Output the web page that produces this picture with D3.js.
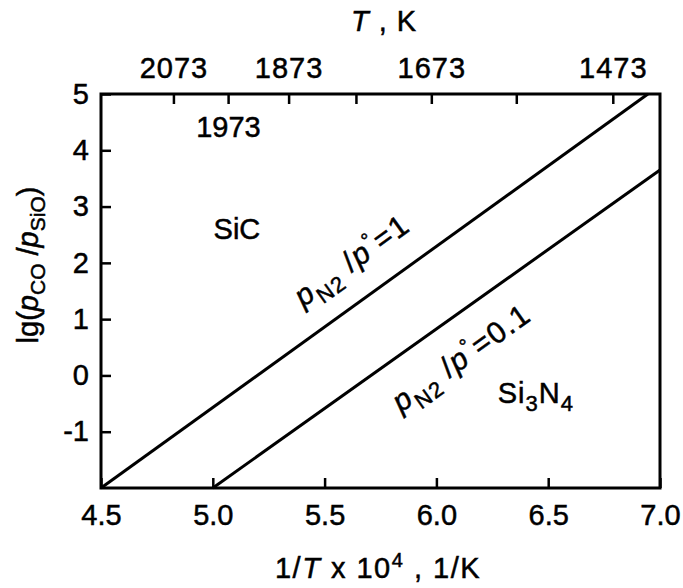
<!DOCTYPE html>
<html>
<head>
<meta charset="utf-8">
<script src="https://cdn.jsdelivr.net/npm/d3@7"></script>
<style>
  body { margin: 0; background: #fff; }
  text { font-family: "Liberation Sans", Arial, sans-serif; fill: #000; stroke: #000; stroke-width: 0.5px; }
</style>
</head>
<body>
<svg id="chart" width="683" height="588"></svg>
<script>
// values
var xTicks = [4.5, 5.0, 5.5, 6.0, 6.5, 7.0];
var yTicks = [-1, 0, 1, 2, 3, 4, 5];
var topTemps = [2073, 1973, 1873, 1773, 1673, 1573, 1473];
var topLabelled = [2073, 1873, 1673, 1473];
var lineN2_1 = [[4.5, -2], [6.946, 5]];      // pN2/p° = 1
var lineN2_01 = [[5.0, -2], [7.0, 3.65]];    // pN2/p° = 0.1

var FS = "29px";

var svg = d3.select("#chart");
var margin = {top: 94, right: 23, bottom: 100, left: 101};
var W = 683 - margin.left - margin.right,
    H = 588 - margin.top - margin.bottom;

var g = svg.append("g")
    .attr("transform", "translate(" + margin.left + "," + margin.top + ")");

var x = d3.scaleLinear().domain([4.5, 7.0]).range([0, W]);
var y = d3.scaleLinear().domain([-2, 5]).range([H, 0]);

// bottom axis, ticks pointing in
var xAxis = g.append("g")
    .attr("transform", "translate(0," + H + ")")
    .call(d3.axisBottom(x).tickValues(xTicks).tickSize(-10).tickPadding(16)
        .tickFormat(d3.format(".1f")));

// left axis
var yAxis = g.append("g")
    .call(d3.axisLeft(y).tickValues(yTicks).tickSize(-10).tickPadding(12)
        .tickFormat(function(d){ return d < 0 ? "-" + (-d) : d; }));

// top axis in temperature
var topAxis = g.append("g")
    .call(d3.axisTop(x).tickValues(topTemps.map(function(t){ return 1e4 / t; }))
        .tickSize(-10).tickPadding(16)
        .tickFormat(function(v){
            var t = Math.round(1e4 / v);
            return topLabelled.indexOf(t) >= 0 ? t : "";
        }));

[xAxis, yAxis, topAxis].forEach(function(a){
    a.select(".domain").remove();
    a.selectAll(".tick line").attr("stroke", "#000").attr("stroke-width", 2.5);
    a.selectAll(".tick text")
        .style("font-family", "'Liberation Sans', Arial, sans-serif")
        .style("font-size", FS)
        .attr("fill", "#000");
});
topAxis.selectAll(".tick text").style("letter-spacing", "1px");

// frame
g.append("rect")
    .attr("width", W).attr("height", H)
    .attr("fill", "none").attr("stroke", "#000").attr("stroke-width", 3);

// equilibrium lines
var line = d3.line().x(function(d){ return x(d[0]); }).y(function(d){ return y(d[1]); });
[lineN2_1, lineN2_01].forEach(function(l){
    g.append("path").datum(l).attr("d", line)
        .attr("fill", "none").attr("stroke", "#000").attr("stroke-width", 3);
});

function angleOf(l){
    return Math.atan2(y(l[1][1]) - y(l[0][1]), x(l[1][0]) - x(l[0][0])) * 180 / Math.PI;
}

// rotated labels on the lines
function pLabel(px, py, ang, value){
    var t = g.append("text")
        .attr("transform", "translate(" + x(px) + "," + y(py) + ") rotate(" + ang + ")")
        .attr("text-anchor", "middle")
        .attr("dy", "0.35em")
        .style("font-size", "30px")
        .style("letter-spacing", "1.5px");
    t.append("tspan").style("font-style", "italic").text("p");
    t.append("tspan").attr("dy", 9).style("font-size", "22px").text("N");
    t.append("tspan").style("font-size", "22px").text("2");
    t.append("tspan").attr("dy", -9).text(" /");
    t.append("tspan").style("font-style", "italic").text("p");
    t.append("tspan").attr("dy", -11).style("font-size", "20px").text("°");
    t.append("tspan").attr("dy", 11).text("=" + value);
}
pLabel(5.62, 2.05, angleOf(lineN2_1), "1");
pLabel(6.11, 0.32, angleOf(lineN2_01), "0.1");

// phase field labels
g.append("text").attr("x", x(5.07)).attr("y", y(4.41)).attr("dy", "0.35em")
    .attr("text-anchor", "middle").style("font-size", FS).text("1973");
g.append("text").attr("x", x(5.108)).attr("y", y(2.6)).attr("dy", "0.35em")
    .attr("text-anchor", "middle").style("font-size", FS).text("SiC");
var sn = g.append("text").attr("x", x(6.445)).attr("y", y(-0.33)).attr("dy", "0.3em")
    .attr("text-anchor", "middle").style("font-size", FS).style("letter-spacing", "1px");
sn.append("tspan").text("Si");
sn.append("tspan").attr("dy", 8).style("font-size", "22px").text("3");
sn.append("tspan").attr("dy", -8).text("N");
sn.append("tspan").attr("dy", 8).style("font-size", "22px").text("4");

// axis titles
var yt = svg.append("text")
    .attr("transform", "translate(38,265) rotate(-90)")
    .attr("text-anchor", "middle").style("font-size", FS);
yt.append("tspan").text("lg(");
yt.append("tspan").style("font-style", "italic").text("p");
yt.append("tspan").attr("dy", 7).style("font-size", "21px").text("CO");
yt.append("tspan").attr("dy", -7).text(" /");
yt.append("tspan").style("font-style", "italic").text("p");
yt.append("tspan").attr("dy", 7).style("font-size", "21px").text("SiO");
yt.append("tspan").attr("dy", -7).text(")");

var xt = svg.append("text").attr("x", 378).attr("y", 578)
    .attr("text-anchor", "middle").style("font-size", FS).style("letter-spacing", "1.5px");
xt.append("tspan").text("1/");
xt.append("tspan").style("font-style", "italic").text("T");
xt.append("tspan").text(" x 10");
xt.append("tspan").attr("dy", -11).style("font-size", "20px").text("4");
xt.append("tspan").attr("dy", 11).text(" , 1/K");

var tt = svg.append("text").attr("x", 384).attr("y", 31)
    .attr("text-anchor", "middle").style("font-size", FS).style("letter-spacing", "1px");
tt.append("tspan").style("font-style", "italic").text("T");
tt.append("tspan").text(" , K");
</script>
</body>
</html>
